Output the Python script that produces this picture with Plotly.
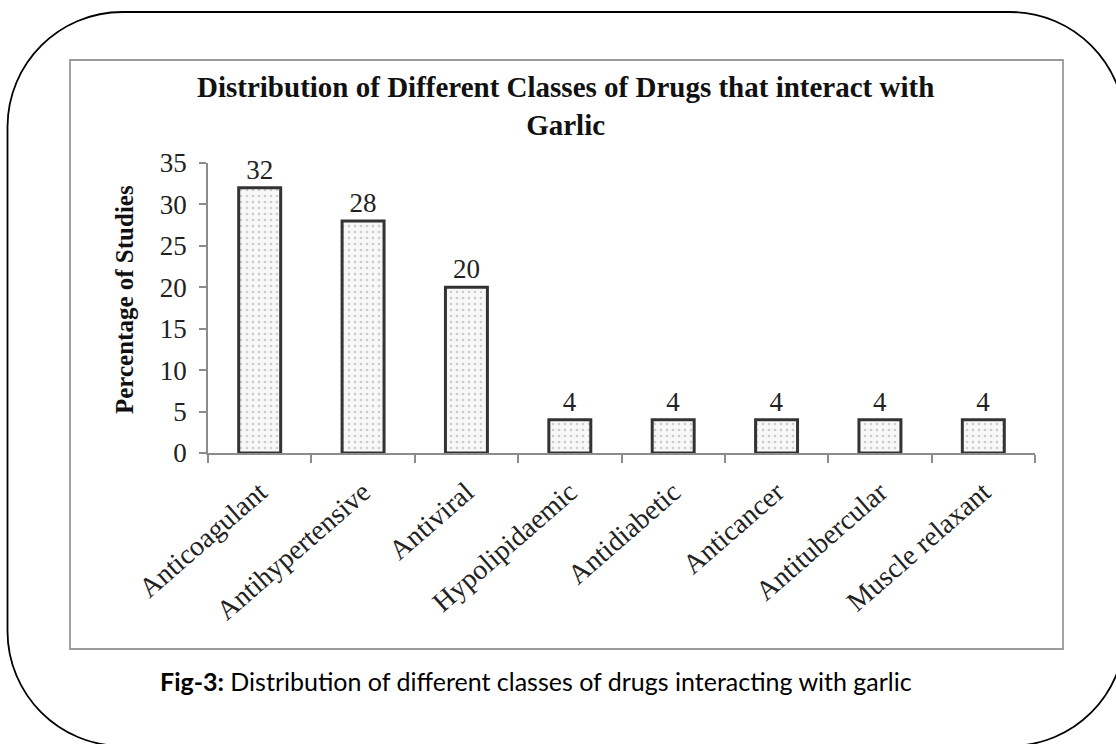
import plotly.graph_objects as go

# ---- data ----
categories = ["Anticoagulant", "Antihypertensive", "Antiviral", "Hypolipidaemic",
              "Antidiabetic", "Anticancer", "Antitubercular", "Muscle relaxant"]
percentages = [32, 28, 20, 4, 4, 4, 4, 4]
y_ticks = [0, 5, 10, 15, 20, 25, 30, 35]
chart_title_line1 = "Distribution of Different Classes of Drugs that interact with"
chart_title_line2 = "Garlic"
y_title = "Percentage of Studies"
caption_bold = "Fig-3:"
caption_rest = " Distribution of different classes of drugs interacting with garlic"

# ---- layout geometry (pixels) ----
FIG_W, FIG_H = 1116, 744
L, R, T, B = 208, 1035, 163, 453
W, H = R - L, B - T


def xp(px):
    return (px - L) / W


def yp(py):
    return (B - py) / H


SERIF = "Liberation Serif, Times New Roman, serif"

fig = go.Figure()
fig.add_trace(go.Bar(
    x=categories,
    y=percentages,
    text=[str(v) for v in percentages],
    textposition="outside",
    cliponaxis=False,
    textfont=dict(family=SERIF, size=27, color="#222222"),
    marker=dict(
        color="#f8f8f8",
        line=dict(color="#333333", width=3),
        pattern=dict(shape=".", fgcolor="#a0a0a0", bgcolor="#f8f8f8",
                     size=6, solidity=0.15),
    ),
    showlegend=False,
))

# outer rounded rectangle (pixel geometry -> paper)
ox0, ox1, oy0, oy1, rad = 7.5, 1125, 12, 746, 115
k = 0.5523 * rad


def P(px, py):
    return f"{xp(px):.5f},{yp(py):.5f}"


outer_path = (
    f"M {P(ox0 + rad, oy0)} L {P(ox1 - rad, oy0)} "
    f"C {P(ox1 - rad + k, oy0)} {P(ox1, oy0 + rad - k)} {P(ox1, oy0 + rad)} "
    f"L {P(ox1, oy1 - rad)} "
    f"C {P(ox1, oy1 - rad + k)} {P(ox1 - rad + k, oy1)} {P(ox1 - rad, oy1)} "
    f"L {P(ox0 + rad, oy1)} "
    f"C {P(ox0 + rad - k, oy1)} {P(ox0, oy1 - rad + k)} {P(ox0, oy1 - rad)} "
    f"L {P(ox0, oy0 + rad)} "
    f"C {P(ox0, oy0 + rad - k)} {P(ox0 + rad - k, oy0)} {P(ox0 + rad, oy0)} Z"
)

shapes = [
    dict(type="path", xref="paper", yref="paper", path=outer_path,
         line=dict(color="#000000", width=1.8), layer="below"),
    dict(type="rect", xref="paper", yref="paper",
         x0=xp(70), x1=xp(1063), y0=yp(649), y1=yp(60),
         line=dict(color="#9a9a9a", width=1.8), layer="below"),
]

annotations = [
    dict(text=f"<b>{chart_title_line1}<br>{chart_title_line2}</b>", x=xp(565), y=yp(106),
         xref="paper", yref="paper", showarrow=False, xanchor="center", yanchor="middle",
         align="center", font=dict(family=SERIF, size=29, color="#111111")),
    dict(text=f"<b>{y_title}</b>", x=xp(124), y=yp(300), xref="paper", yref="paper",
         showarrow=False, xanchor="center", yanchor="middle", textangle=-90,
         font=dict(family=SERIF, size=25, color="#111111")),
    dict(text=f"<b>{caption_bold}</b>{caption_rest}", x=xp(536), y=yp(681),
         xref="paper", yref="paper", showarrow=False, xanchor="center", yanchor="middle",
         font=dict(family="Lato, Open Sans, sans-serif", size=25, color="#000000")),
]

fig.update_layout(
    width=FIG_W, height=FIG_H,
    margin=dict(l=L, r=FIG_W - R, t=T, b=FIG_H - B, pad=0),
    paper_bgcolor="white", plot_bgcolor="white",
    bargap=0.594,
    shapes=shapes,
    annotations=annotations,
    xaxis=dict(
        showline=True, linecolor="#8c8c8c", linewidth=1.5,
        ticks="outside", tickson="boundaries", ticklen=8, tickcolor="#8c8c8c", tickwidth=1.5,
        tickangle=-41, showgrid=False, zeroline=False,
        tickfont=dict(family=SERIF, size=28, color="#222222"),
        ticklabelstandoff=10,
    ),
    yaxis=dict(
        range=[0, 35], tickvals=y_ticks, ticktext=[str(v) for v in y_ticks],
        showline=True, linecolor="#8c8c8c", linewidth=1.5,
        ticks="outside", ticklen=7, tickcolor="#8c8c8c", tickwidth=1.5,
        showgrid=False, zeroline=False,
        tickfont=dict(family=SERIF, size=27, color="#222222"),
        ticklabelstandoff=7,
    ),
)

fig.write_html("out.html")
